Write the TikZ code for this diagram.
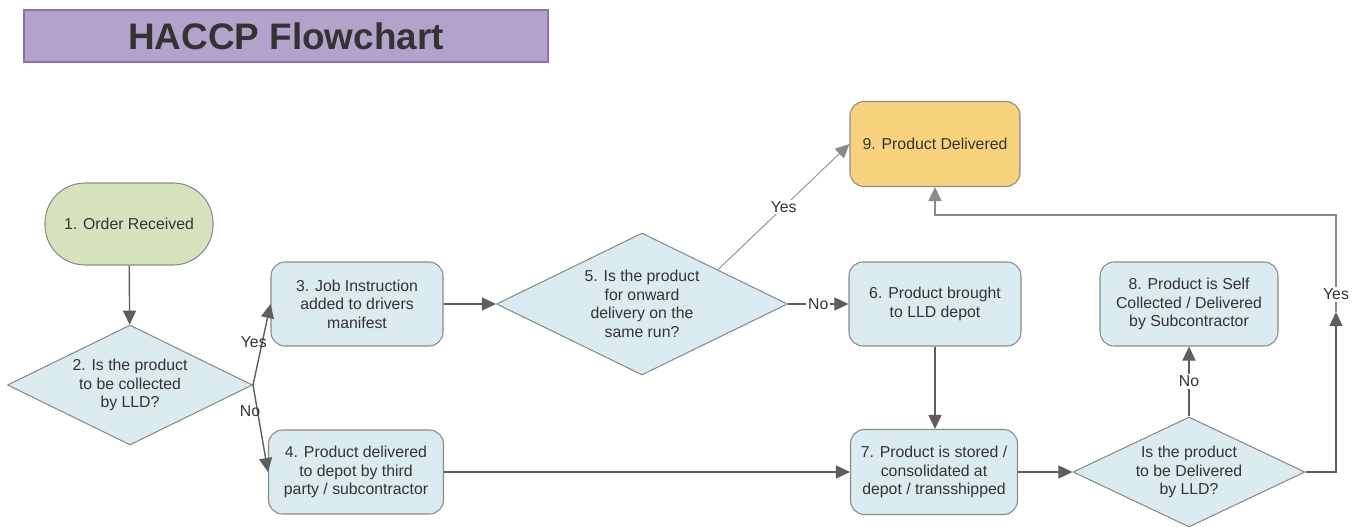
\documentclass[tikz,border=0pt]{standalone}
\usepackage{fontspec}
\setmainfont{Liberation Sans}
\usetikzlibrary{shapes.geometric,arrows.meta,calc}

\definecolor{txt}{HTML}{333333}
\definecolor{edge}{HTML}{8A8A8A}
\definecolor{wire}{HTML}{5E5E5E}
\definecolor{boxblue}{HTML}{DAEBF2}
\definecolor{startgreen}{HTML}{D6E3BC}
\definecolor{doneorange}{HTML}{F9D27E}
\definecolor{titlefill}{HTML}{B3A2C9}
\definecolor{titleline}{HTML}{8E70B2}

\tikzset{
  txtfont/.style={font=\fontsize{9}{10.5}\selectfont, text=txt},
  box/.style={txtfont, draw=edge, fill=boxblue, rounded corners=2.8mm, line width=0.6pt,
    minimum width=34.4mm, minimum height=16.8mm, align=center, inner sep=1pt},
  decision/.style={txtfont, diamond, draw=edge, fill=boxblue, line width=0.6pt,
    aspect=2, inner sep=0pt, align=center},
  flow/.style={draw=wire, line width=0.8pt, -{Triangle[length=2.8mm,width=2.6mm]}},
  lbl/.style={txtfont, inner sep=1pt}
}

\begin{document}
\begin{tikzpicture}[x=0.2mm, y=-0.2mm]
    \useasboundingbox (0,0) rectangle (1357,526);

    \node[draw=titleline, fill=titlefill, line width=0.6pt, minimum width=104.8mm, minimum height=10.4mm,
      text=txt, font=\fontsize{21}{24}\selectfont\bfseries] (title) at (286,36) {HACCP Flowchart};

    \node[txtfont, draw=edge, fill=startgreen, rounded corners=8mm, line width=0.6pt,
      minimum width=33.6mm, minimum height=16.4mm] (order) at (129,224) {1. Order Received};
    \node[decision, minimum width=49mm, minimum height=24mm] (collect) at (130,385) {2. Is the product\\to be collected\\by LLD?};
    \node[box] (job) at (357,304) {3. Job Instruction\\added to drivers\\manifest};
    \node[box, minimum width=35mm] (third) at (356,472) {4. Product delivered\\to depot by third\\party / subcontractor};
    \node[decision, minimum width=58.2mm, minimum height=28.4mm] (onward) at (642,304) {5. Is the product\\for onward\\delivery on the\\same run?};
    \node[box] (brought) at (935,304) {6. Product brought\\to LLD depot};
    \node[box, fill=doneorange, minimum width=34mm, minimum height=17mm] (deliv) at (935,144) {9. Product Delivered};
    \node[box, minimum width=33.4mm, minimum height=17mm] (stored) at (934,472) {7. Product is stored /\\consolidated at\\depot / transshipped};
    \node[box, minimum width=35.6mm] (self) at (1189,304) {8. Product is Self\\Collected / Delivered\\by Subcontractor};
    \node[decision, minimum width=46.4mm, minimum height=22mm] (bylld) at (1189,472) {Is the product\\to be Delivered\\by LLD?};

    \coordinate (yesup) at (1336,312);
    \coordinate (loop) at (1336,215);

    \draw[flow] (order) -- (collect);
    \draw[flow] (collect.east) -- node[lbl, pos=0.53, xshift=-1.7mm] {Yes} (job.west);
    \draw[flow] (collect.east) -- node[lbl, pos=0.3, xshift=-1.5mm] {No} (third.west);
    \draw[flow] (job) -- (onward);
    \draw[flow] (onward) -- node[lbl, fill=white] {No} (brought);
    \draw[flow, line width=0.5pt, draw=edge] ($(onward.north)!0.52!(onward.east)$) -- node[lbl, fill=white] {Yes} (deliv.west);
    \draw[flow] (brought) -- (brought |- stored.north);
    \draw[flow] (third) -- (stored);
    \draw[flow] (stored) -- (bylld);
    \draw[flow] (bylld) -- node[lbl, fill=white] {No} (self);
    \draw[flow] (bylld.east) -| (yesup);
    \draw[flow, draw=edge] (yesup) -- node[lbl, fill=white, pos=0.18] {Yes} (loop) -| (deliv.south);
\end{tikzpicture}
\end{document}
